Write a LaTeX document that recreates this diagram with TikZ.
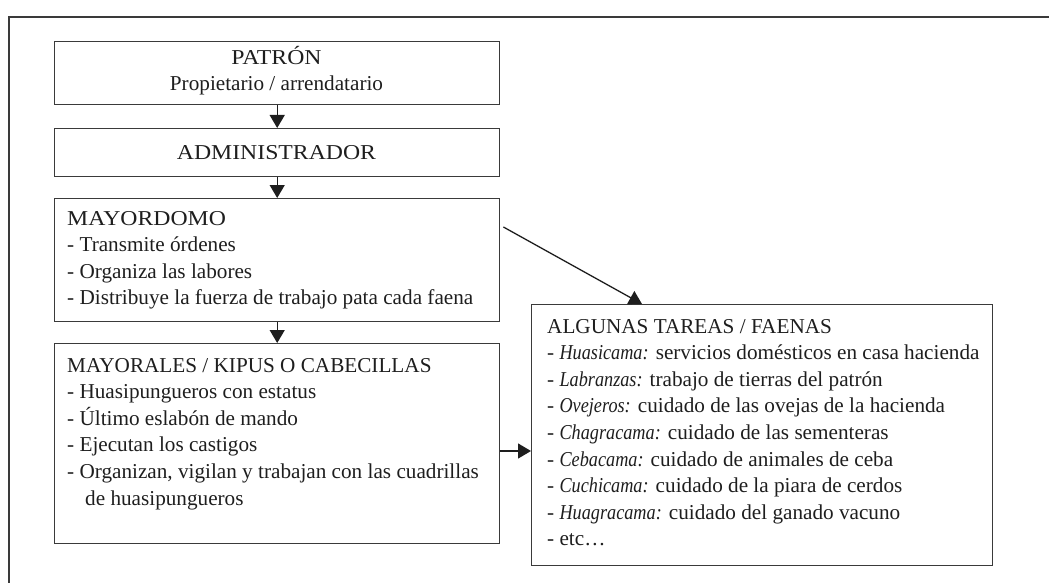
\documentclass[tikz,border=0pt]{standalone}
\usepackage{fontspec}
\setmainfont{Liberation Serif}[ItalicFeatures={FakeStretch=0.86}]
\newfontfamily\widecaps{Liberation Serif}[FakeStretch=1.12]
\usetikzlibrary{arrows.meta}
\definecolor{linegray}{HTML}{3A3A3A}
\definecolor{txt}{HTML}{1E1E1E}
\tikzset{
  box/.style={draw=linegray, line width=1.4pt, anchor=north west, inner sep=0pt, minimum width=#1},
  ln/.style={anchor=base west, inner sep=0pt, text=txt, font=\fontsize{21.2}{26.6}\selectfont},
  ctr/.style={anchor=base, inner sep=0pt, text=txt, font=\fontsize{21.2}{26.6}\selectfont},
  conn/.style={draw=txt, line width=1.3pt, -{Triangle[width=15pt,length=13pt]}}
}
\begin{document}
\begin{tikzpicture}[x=1pt,y=-1pt]
\useasboundingbox (0,0) rectangle (1049,583);
% outer frame (cropped)
\draw[draw=linegray, line width=1.5pt] (9,583) -- (9,17) -- (1049,17);

% boxes
\node[box=445pt, minimum height=63pt] (patron) at (54,41) {};
\node[box=445pt, minimum height=48pt] (admin) at (54,128) {};
\node[box=445pt, minimum height=123pt] (mayordomo) at (54,198) {};
\node[box=445pt, minimum height=200pt] (mayorales) at (54,343) {};
\node[box=461pt, minimum height=261pt] (tareas) at (531,304) {};

% texts
\node[ctr] (t1) at (276.5,65) {\widecaps PATRÓN};
\node[ctr] (t2) at (276.5,91) {Propietario / arrendatario};
\node[ctr] (t3) at (276.5,160) {\widecaps ADMINISTRADOR};

\node[ln] (m1) at (67,225) {\widecaps MAYORDOMO};
\node[ln] (m2) at (67,251.6) {- Transmite órdenes};
\node[ln] (m3) at (67,278.2) {- Organiza las labores};
\node[ln] (m4) at (67,304.8) {- Distribuye la fuerza de trabajo pata cada faena};

\node[ln] (k1) at (67,372) {MAYORALES / KIPUS O CABECILLAS};
\node[ln] (k2) at (67,398.6) {- Huasipungueros con estatus};
\node[ln] (k3) at (67,425.2) {- Último eslabón de mando};
\node[ln] (k4) at (67,451.8) {- Ejecutan los castigos};
\node[ln] (k5) at (67,478.4) {- Organizan, vigilan y trabajan con las cuadrillas};
\node[ln] (k6) at (85,505) {de huasipungueros};

\node[ln] (a1) at (547,333) {ALGUNAS TAREAS / FAENAS};
\node[ln] (a2) at (547,359.6) {- {\itshape Huasicama:} servicios domésticos en casa hacienda};
\node[ln] (a3) at (547,386.2) {- {\itshape Labranzas:} trabajo de tierras del patrón};
\node[ln] (a4) at (547,412.8) {- {\itshape Ovejeros:} cuidado de las ovejas de la hacienda};
\node[ln] (a5) at (547,439.4) {- {\itshape Chagracama:} cuidado de las sementeras};
\node[ln] (a6) at (547,466) {- {\itshape Cebacama:} cuidado de animales de ceba};
\node[ln] (a7) at (547,492.6) {- {\itshape Cuchicama:} cuidado de la piara de cerdos};
\node[ln] (a8) at (547,519.2) {- {\itshape Huagracama:} cuidado del ganado vacuno};
\node[ln] (a9) at (547,545.8) {- etc…};

% connectors
\draw[conn] (patron.south) -- (admin.north);
\draw[conn] (admin.south) -- (mayordomo.north);
\draw[conn] (mayordomo.south) -- (mayorales.north);
\coordinate (dstart) at ([xshift=3pt]mayordomo.east |- 0,227);
\coordinate (dend) at ([xshift=111pt]tareas.north west);
\draw[conn] (dstart) -- (dend);
\coordinate (hstart) at (mayorales.east |- 0,451);
\draw[conn] (hstart) -- (tareas.west |- hstart);
\end{tikzpicture}
\end{document}
